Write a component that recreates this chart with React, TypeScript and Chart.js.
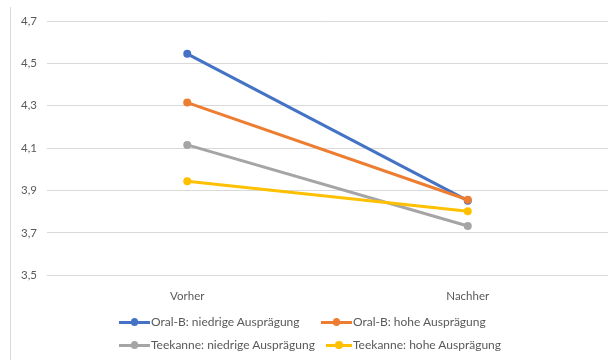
import React, { useEffect, useRef } from "react";
import { Chart, registerables } from "chart.js";

Chart.register(...registerables);

const categories = ["Vorher", "Nachher"];
const seriesNames = [
  "Oral-B: niedrige Ausprägung",
  "Oral-B: hohe Ausprägung",
  "Teekanne: niedrige Ausprägung",
  "Teekanne: hohe Ausprägung",
];
const oralBNiedrig = [4.545, 3.852];
const oralBHoch = [4.315, 3.856];
const teekanneNiedrig = [4.115, 3.732];
const teekanneHoch = [3.944, 3.802];
const seriesColors = ["#4472C4", "#ED7D31", "#A5A5A5", "#FFC000"];
const yMin = 3.5;
const yMax = 4.7;
const yStep = 0.2;

const FONT = "Lato, 'Open Sans', sans-serif";
const TEXT = "#595959";

// legend entries laid out in two rows: [left, top, marker width] of each entry
const legendSlots = [
  [119, 314, 31],
  [321, 314, 31],
  [119, 337, 31],
  [326, 337, 26],
];

function LegendItem({
  color,
  label,
  left,
  top,
  width,
}: {
  color: string;
  label: string;
  left: number;
  top: number;
  width: number;
}) {
  return (
    <div style={{ position: "absolute", left, top, display: "flex", alignItems: "center", whiteSpace: "nowrap" }}>
      <div style={{ position: "relative", width, height: 8, marginRight: 1 }}>
        <div style={{ position: "absolute", left: 0, right: 0, top: 3, height: 2.5, background: color }} />
        <div
          style={{
            position: "absolute",
            left: width / 2 - 3.75,
            top: 0.2,
            width: 7.5,
            height: 7.5,
            borderRadius: "50%",
            background: color,
          }}
        />
      </div>
      <span>{label}</span>
    </div>
  );
}

export default function App() {
  const canvasRef = useRef<HTMLCanvasElement | null>(null);

  useEffect(() => {
    document.body.style.margin = "0";
    const values = [oralBNiedrig, oralBHoch, teekanneNiedrig, teekanneHoch];
    const chart = new Chart(canvasRef.current as HTMLCanvasElement, {
      type: "line",
      data: {
        labels: categories,
        datasets: values.map((data, i) => ({
          label: seriesNames[i],
          data,
          borderColor: seriesColors[i],
          backgroundColor: seriesColors[i],
          borderWidth: 3,
          pointRadius: 4,
          pointHoverRadius: 4,
          pointBorderWidth: 0,
          order: values.length - i,
        })),
      },
      options: {
        responsive: false,
        animation: false,
        layout: { padding: { top: 21, right: 1, left: 0, bottom: 51 } },
        plugins: { legend: { display: false }, tooltip: { enabled: false } },
        scales: {
          x: {
            offset: true,
            grid: { display: false },
            border: { display: false },
            ticks: { color: TEXT, font: { family: FONT, size: 11.5 }, padding: 6 },
          },
          y: {
            min: yMin,
            max: yMax,
            grid: { color: "#d9d9d9", lineWidth: 1, drawTicks: false },
            border: { display: false },
            ticks: {
              stepSize: yStep,
              color: TEXT,
              font: { family: FONT, size: 11.5 },
              padding: 10,
              callback: (v: any) => Number(v).toFixed(1).replace(".", ","),
            },
            afterFit: (s: any) => {
              s.width = 47;
            },
          },
        },
      },
    });
    return () => chart.destroy();
  }, []);

  return (
    <div style={{ position: "relative", width: 612, height: 360, background: "#fff", fontFamily: FONT }}>
      <canvas ref={canvasRef} width={612} height={360} style={{ position: "absolute", left: 0, top: 0 }} />
      <div style={{ position: "absolute", left: 10, top: 7, width: 1, height: 353, background: "#d9d9d9" }} />
      <div style={{ position: "absolute", left: 0, top: 0, color: TEXT, fontSize: 12, lineHeight: "16px" }}>
        {seriesNames.map((name, i) => (
          <LegendItem
            key={name}
            color={seriesColors[i]}
            label={name}
            left={legendSlots[i][0]}
            top={legendSlots[i][1]}
            width={legendSlots[i][2]}
          />
        ))}
      </div>
    </div>
  );
}
